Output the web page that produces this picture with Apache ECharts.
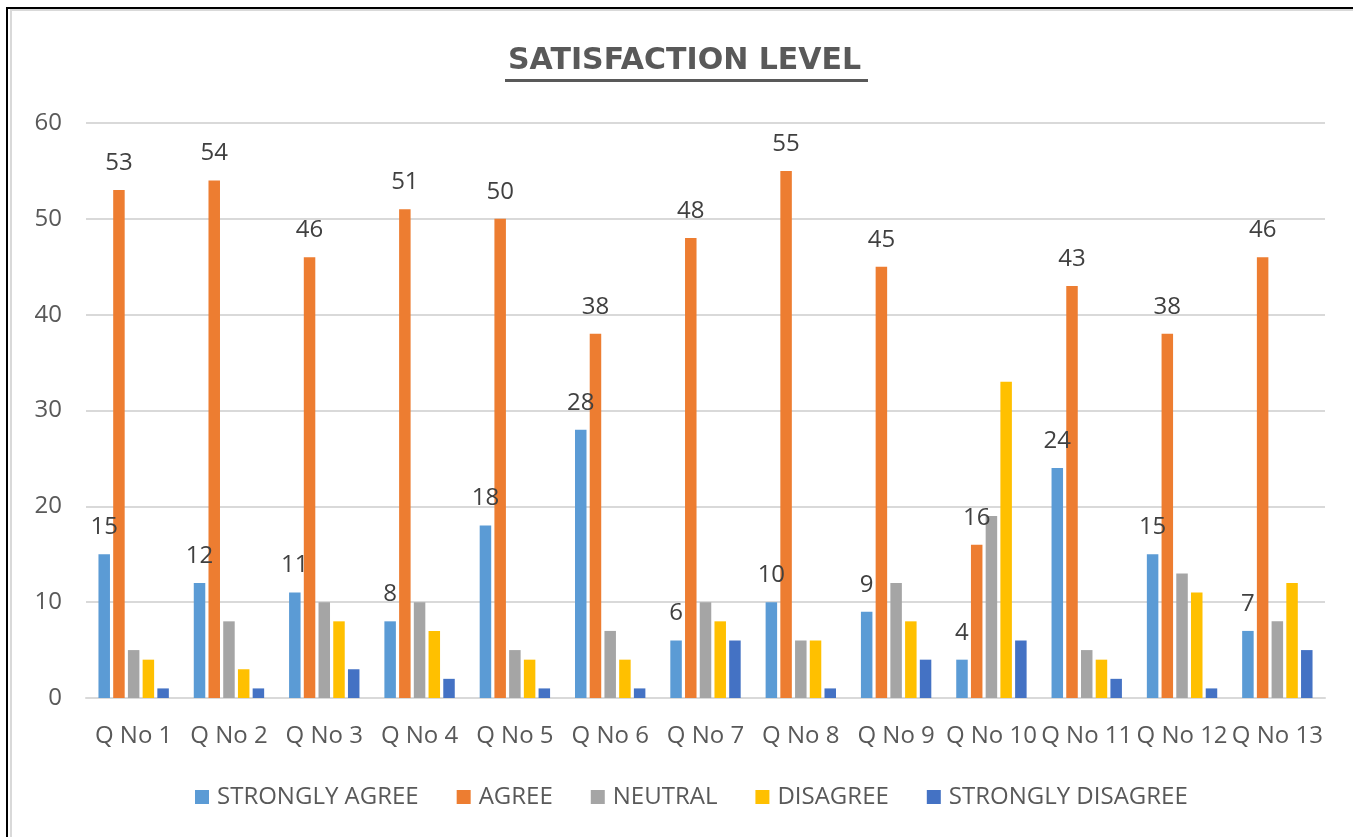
<!DOCTYPE html>
<html>
<head>
<meta charset="utf-8">
<title>Satisfaction Level</title>
<script src="https://cdn.jsdelivr.net/npm/echarts@6/dist/echarts.min.js"></script>
<style>
  html, body { margin: 0; padding: 0; background: #ffffff; }
  #wrap { position: relative; width: 1353px; height: 837px; overflow: hidden; }
  #chart { position: absolute; left: 0; top: 0; width: 1353px; height: 837px; }
  .frame-black-top { position: absolute; left: 6px; top: 7px; width: 1347px; height: 2px; background: #000; }
  .frame-black-left { position: absolute; left: 6px; top: 7px; width: 2px; height: 830px; background: #000; }
  .frame-gray-top { position: absolute; left: 10px; top: 9px; width: 1343px; height: 2px; background: #d9d9d9; }
  .frame-gray-left { position: absolute; left: 10px; top: 9px; width: 2px; height: 828px; background: #d9d9d9; }
</style>
</head>
<body>
<div id="wrap">
  <div id="chart"></div>
  <div class="frame-gray-top"></div>
  <div class="frame-gray-left"></div>
  <div class="frame-black-top"></div>
  <div class="frame-black-left"></div>
</div>
<script>
// Questions on the x axis
const questions = ['Q No 1', 'Q No 2', 'Q No 3', 'Q No 4', 'Q No 5', 'Q No 6', 'Q No 7',
                   'Q No 8', 'Q No 9', 'Q No 10', 'Q No 11', 'Q No 12', 'Q No 13'];

// Responses per question for each answer
const stronglyAgree    = [15, 12, 11, 8, 18, 28, 6, 10, 9, 4, 24, 15, 7];
const agree            = [53, 54, 46, 51, 50, 38, 48, 55, 45, 16, 43, 38, 46];
const neutral          = [5, 8, 10, 10, 5, 7, 10, 6, 12, 19, 5, 13, 8];
const disagree         = [4, 3, 8, 7, 4, 4, 8, 6, 8, 33, 4, 11, 12];
const stronglyDisagree = [1, 1, 3, 2, 1, 1, 6, 1, 4, 6, 2, 1, 5];

const FONT = '"Open Sans", "Noto Sans", sans-serif';
const TEXT = '#595959';

const valueLabel = {
  show: true,
  position: 'top',
  distance: 15,
  color: '#404040',
  fontSize: 24,
  fontFamily: FONT
};

function bar(name, data, color, withLabel) {
  return {
    name: name,
    type: 'bar',
    data: data,
    barWidth: 11.5,
    barGap: '28%',
    itemStyle: { color: color },
    label: withLabel ? valueLabel : { show: false },
    emphasis: { disabled: true }
  };
}

const chart = echarts.init(document.getElementById('chart'), null, { renderer: 'canvas' });

chart.setOption({
  backgroundColor: '#ffffff',
  animation: false,
  title: {
    text: 'SATISFACTION LEVEL',
    left: 503,
    top: 41,
    textStyle: { fontFamily: '"DejaVu Sans", ' + FONT, fontSize: 30, fontWeight: 'bold', color: TEXT }
  },
  graphic: [{
    type: 'rect',
    left: 505,
    top: 79,
    shape: { width: 363, height: 3 },
    style: { fill: TEXT }
  }],
  grid: { left: 86, right: 28, top: 123, bottom: 139 },
  legend: {
    bottom: 23,
    left: 190,
    itemWidth: 14,
    itemHeight: 14,
    itemGap: 38,
    icon: 'rect',
    textStyle: { fontFamily: FONT, fontSize: 24, color: TEXT, padding: [0, 0, 0, 3] },
    data: ['STRONGLY AGREE', 'AGREE', 'NEUTRAL', 'DISAGREE', 'STRONGLY DISAGREE']
  },
  xAxis: {
    type: 'category',
    data: questions,
    axisLine: { show: true, lineStyle: { color: '#d9d9d9', width: 2 } },
    axisTick: { show: false },
    axisLabel: { interval: 0, margin: 26, fontFamily: FONT, fontSize: 24, color: TEXT }
  },
  yAxis: {
    type: 'value',
    min: 0,
    max: 60,
    interval: 10,
    axisLine: { show: false },
    axisTick: { show: false },
    axisLabel: { margin: 24, fontFamily: FONT, fontSize: 24, color: TEXT },
    splitLine: { lineStyle: { color: '#d9d9d9', width: 2 } }
  },
  series: [
    bar('STRONGLY AGREE', stronglyAgree, '#5B9BD5', true),
    bar('AGREE', agree, '#ED7D31', true),
    bar('NEUTRAL', neutral, '#A5A5A5', false),
    bar('DISAGREE', disagree, '#FFC000', false),
    bar('STRONGLY DISAGREE', stronglyDisagree, '#4472C4', false)
  ]
});
</script>
</body>
</html>
